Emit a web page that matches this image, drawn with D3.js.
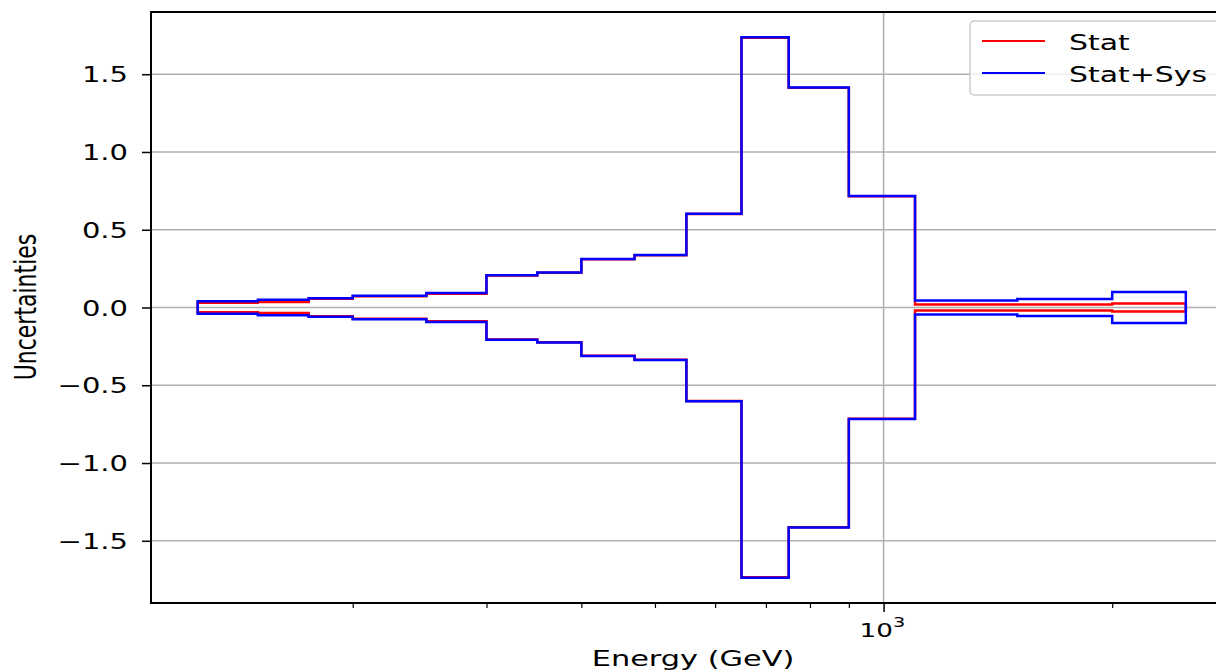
<!DOCTYPE html>
<html>
<head>
	<meta charset="utf-8">
	<title>Uncertainties vs Energy</title>
	<script src="https://d3js.org/d3.v7.min.js"></script>
	<style>
		body { margin: 0; background: #fff; }
		text { font-family: "DejaVu Sans", sans-serif; fill: #000; }
	</style>
</head>
<body>
	<div id="chart"></div>

	<script type="text/javascript">
		// Bin edges in GeV (16 bins)
		const binEdges = [125, 150, 175, 200, 250, 300, 350, 400, 470, 550, 650, 750, 900, 1100, 1500, 2000, 2500];
		// Half widths of the bands
		const statValues    = [0.030, 0.036, 0.056, 0.072, 0.088, 0.206, 0.223, 0.310, 0.336, 0.601, 1.735, 1.413, 0.715, 0.020, 0.020, 0.025];
		const statSysValues = [0.040, 0.050, 0.060, 0.075, 0.093, 0.208, 0.225, 0.312, 0.338, 0.603, 1.737, 1.415, 0.717, 0.045, 0.055, 0.100];
		const yTicks = [-1.5, -1.0, -0.5, 0.0, 0.5, 1.0, 1.5];
		const xMinorTicks = [200, 300, 400, 500, 600, 700, 800, 900, 2000];
		const xMajorTicks = [1000];
		const seriesNames = ["Stat", "Stat+Sys"];
		const seriesColors = ["#ff0000", "#0000ff"];

		const W = 1216, H = 672;
		const mLeft = 151, mTop = 12, mBottom = 603, mRight = 1235;
		const SX = 1.38; // the picture is stretched sideways

		const svg = d3.select("#chart").append("svg")
			.attr("width", W).attr("height", H);

		const x = d3.scaleLog().domain([108.5, 2902]).range([mLeft, mRight]);
		const y = d3.scaleLinear().domain([-1.9, 1.9]).range([mBottom, mTop]);

		// grid
		svg.append("g").selectAll("line.hg")
			.data(yTicks).enter().append("line")
			.attr("x1", mLeft).attr("x2", mRight)
			.attr("y1", d => y(d)).attr("y2", d => y(d))
			.attr("stroke", "#b0b0b0").attr("stroke-width", 1.6);
		svg.append("g").selectAll("line.vg")
			.data(xMajorTicks).enter().append("line")
			.attr("x1", d => x(d)).attr("x2", d => x(d))
			.attr("y1", mTop).attr("y2", mBottom)
			.attr("stroke", "#b0b0b0").attr("stroke-width", 1.6);

		// closed step outline: upper steps then lower steps back
		function bandPath(vals) {
			let p = d3.path();
			p.moveTo(x(binEdges[0]), y(-vals[0]));
			for (let i = 0; i < vals.length; i++) {
				p.lineTo(x(binEdges[i]), y(vals[i]));
				p.lineTo(x(binEdges[i + 1]), y(vals[i]));
			}
			for (let i = vals.length - 1; i >= 0; i--) {
				p.lineTo(x(binEdges[i + 1]), y(-vals[i]));
				p.lineTo(x(binEdges[i]), y(-vals[i]));
			}
			p.closePath();
			return p.toString();
		}

		[statValues, statSysValues].forEach(function (vals, k) {
			svg.append("path")
				.attr("d", bandPath(vals))
				.attr("fill", "none")
				.attr("stroke", seriesColors[k])
				.attr("stroke-width", 2.5)
				.attr("stroke-linejoin", "miter");
		});

		// axes
		const yAxis = svg.append("g")
			.attr("transform", "translate(" + mLeft + ",0)")
			.call(d3.axisLeft(y).tickValues(yTicks).tickSize(9).tickSizeOuter(0)
				.tickFormat(d => d3.format(".1f")(d).replace("-", "\u2212")));
		yAxis.select(".domain").remove();
		yAxis.selectAll(".tick line").attr("stroke-width", 1.5);
		yAxis.selectAll(".tick text")
			.attr("x", null).attr("dy", "0.36em")
			.attr("transform", "translate(-23,0) scale(" + SX + ",1)")
			.attr("font-size", 21)
			.attr("font-family", "DejaVu Sans");

		const xMinor = svg.append("g")
			.attr("transform", "translate(0," + mBottom + ")")
			.call(d3.axisBottom(x).tickValues(xMinorTicks).tickSize(5).tickFormat(""));
		xMinor.select(".domain").remove();
		xMinor.selectAll(".tick line").attr("stroke-width", 1.2);

		const xMajor = svg.append("g")
			.attr("transform", "translate(0," + mBottom + ")")
			.call(d3.axisBottom(x).tickValues(xMajorTicks).tickSize(9).tickFormat(""));
		xMajor.select(".domain").remove();
		xMajor.selectAll(".tick line").attr("stroke-width", 1.5);

		xMajorTicks.forEach(function (t) {
			const g = svg.append("g")
				.attr("transform", "translate(" + (x(t) - 24) + ",637) scale(" + SX + ",1)");
			const tx = g.append("text").attr("font-size", 19);
			tx.append("tspan").text("10");
			tx.append("tspan").attr("font-size", 14).attr("dy", -10).text(Math.round(Math.log10(t)));
		});

		// spines
		svg.append("rect")
			.attr("x", mLeft).attr("y", mTop)
			.attr("width", mRight - mLeft).attr("height", mBottom - mTop)
			.attr("fill", "none").attr("stroke", "#000").attr("stroke-width", 2);

		// axis labels
		svg.append("g")
			.attr("transform", "translate(693,666) scale(1.38,1)")
			.append("text").attr("text-anchor", "middle").attr("font-size", 22)
			.text("Energy (GeV)");
		svg.append("g")
			.attr("transform", "translate(36,307) scale(" + SX + ",1)")
			.append("text").attr("text-anchor", "middle").attr("font-size", 22)
			.attr("transform", "rotate(-90)")
			.text("Uncertainties");

		// legend
		const lg = svg.append("g");
		lg.append("rect")
			.attr("x", 970).attr("y", 21).attr("width", 280).attr("height", 74)
			.attr("rx", 4).attr("fill", "#fff").attr("fill-opacity", 0.8)
			.attr("stroke", "#cccccc").attr("stroke-width", 1.5);
		seriesNames.forEach(function (name, i) {
			const ly = 41 + i * 32;
			lg.append("line")
				.attr("x1", 982).attr("x2", 1045).attr("y1", ly).attr("y2", ly)
				.attr("stroke", seriesColors[i]).attr("stroke-width", 2);
			lg.append("g")
				.attr("transform", "translate(1069," + (ly + 9) + ") scale(1.36,1)")
				.append("text").attr("font-size", 22).text(name);
		});
	</script>
</body>
</html>
